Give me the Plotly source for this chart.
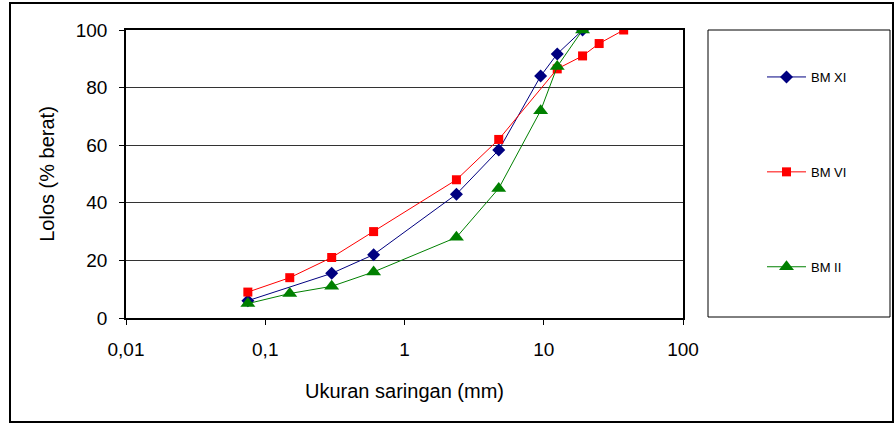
import plotly.graph_objects as go

sieve_xi = [0.075, 0.3, 0.6, 2.36, 4.75, 9.5, 12.5, 19]
pass_xi = [6, 15.5, 22, 43, 58.3, 84, 91.7, 100]

sieve_vi = [0.075, 0.15, 0.3, 0.6, 2.36, 4.75, 12.5, 19, 25, 37.5]
pass_vi = [9, 14, 21, 30, 48, 62, 86.5, 91, 95.3, 100]

sieve_ii = [0.075, 0.15, 0.3, 0.6, 2.36, 4.75, 9.5, 12.5, 19]
pass_ii = [5, 8.5, 11, 16, 28, 45, 72, 87.3, 100]

x_tickvals = [0.01, 0.1, 1, 10, 100]
x_ticktext = ["0,01", "0,1", "1", "10", "100"]
y_tickvals = [0, 20, 40, 60, 80, 100]

FONT = "Liberation Sans, Arial, sans-serif"

fig = go.Figure()
fig.add_trace(go.Scatter(x=sieve_xi, y=pass_xi, name="BM XI", mode="lines+markers",
                         line=dict(color="#000080", width=1),
                         marker=dict(symbol="diamond", size=10, color="#000080"),
                         legendgroup="a"))
fig.add_trace(go.Scatter(x=sieve_vi, y=pass_vi, name="BM VI", mode="lines+markers",
                         line=dict(color="#FF0000", width=1),
                         marker=dict(symbol="square", size=9, color="#FF0000"),
                         legendgroup="b"))
fig.add_trace(go.Scatter(x=sieve_ii, y=pass_ii, name="BM II", mode="lines+markers",
                         line=dict(color="#008000", width=1),
                         marker=dict(symbol="triangle-up", size=13, color="#008000"),
                         legendgroup="c"))

W, H = 896, 425
L, R, T, B = 126, 683, 30, 318

def px(xp):
    return (xp - L) / (R - L)

def py(yp):
    return (B - yp) / (B - T)

fig.update_layout(
    width=W, height=H,
    margin=dict(l=L, r=W - R, t=T, b=H - B),
    paper_bgcolor="white", plot_bgcolor="white",
    font=dict(family=FONT, color="black", size=19),
    showlegend=True,
    legend=dict(x=px(762), y=py(62), xanchor="left", yanchor="top",
                font=dict(size=13, family=FONT), tracegroupgap=75, itemwidth=39,
                bgcolor="rgba(0,0,0,0)", borderwidth=0, traceorder="grouped"),
    xaxis=dict(type="log", range=[-2, 2], tickvals=x_tickvals, ticktext=x_ticktext,
               showgrid=False, ticks="outside", ticklen=5, tickcolor="black",
               showline=True, linecolor="black", linewidth=1.5, mirror=True,
               zeroline=False, ticklabelstandoff=8,
               title=dict(text="Ukuran saringan (mm)", standoff=25, font=dict(size=20))),
    yaxis=dict(range=[0, 100], tickvals=y_tickvals, showgrid=True, gridcolor="#333333",
               gridwidth=1, ticks="outside", ticklen=5, tickcolor="black",
               showline=True, linecolor="black", linewidth=1.5, mirror=True,
               zeroline=False, ticklabelstandoff=8,
               title=dict(text="Lolos (% berat)", standoff=16, font=dict(size=20))),
    shapes=[
        dict(type="rect", xref="paper", yref="paper",
             x0=px(10), x1=px(893), y0=py(422), y1=py(3),
             line=dict(color="black", width=2), fillcolor="rgba(0,0,0,0)", layer="below"),
        dict(type="rect", xref="paper", yref="paper",
             x0=px(708), x1=px(890), y0=py(317), y1=py(30),
             line=dict(color="black", width=1), fillcolor="rgba(0,0,0,0)"),
    ],
)

fig.write_html("out.html")
